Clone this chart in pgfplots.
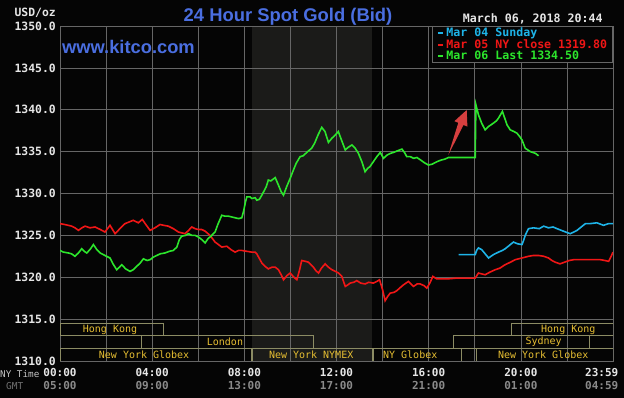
\documentclass[border=0pt]{standalone}
\usepackage{pgfplots}
\pgfplotsset{compat=1.18}
\usepackage{fontspec}
\setmainfont{DejaVu Sans Mono}
\newfontfamily\arialf{Liberation Sans}
\definecolor{pagebgc}{HTML}{050505}
\definecolor{nymexc}{HTML}{1B1B19}
\definecolor{gridc}{HTML}{666666}
\definecolor{cyanL}{HTML}{1EB4E8}
\definecolor{redL}{HTML}{F01616}
\definecolor{greenL}{HTML}{2CE62C}
\definecolor{kblue}{HTML}{4A6EE0}
\definecolor{boxc}{HTML}{8C8C64}
\definecolor{boxt}{HTML}{E6BE32}
\definecolor{tickc}{HTML}{E6E6E6}
\definecolor{gmtc}{HTML}{8A8A8A}
\definecolor{arrowc}{HTML}{E84444}

\pgfdeclarelayer{pagebg}
\pgfplotsset{
  layers/kitco/.define layer set={
    pagebg,axis background,axis grid,axis ticks,axis lines,axis tick labels,pre main,main,axis descriptions,axis foreground
  }{/pgfplots/layers/standard},
}

\pgfplotstableread{
h v
0.00 1326.4
0.20 1326.3
0.51 1326.1
0.65 1325.9
0.80 1325.6
0.95 1325.9
1.09 1326.1
1.30 1325.9
1.52 1326.0
1.75 1325.7
1.95 1325.4
2.17 1326.2
2.39 1325.2
2.60 1325.8
2.82 1326.4
3.00 1326.6
3.18 1326.8
3.40 1326.5
3.57 1326.9
3.75 1326.2
3.91 1325.6
4.12 1325.9
4.34 1326.3
4.50 1326.2
4.70 1326.1
4.92 1325.8
5.14 1325.4
5.28 1325.3
5.43 1325.2
5.58 1325.6
5.72 1326.0
5.86 1325.8
6.01 1325.7
6.15 1325.7
6.30 1325.5
6.51 1325.0
6.62 1324.6
6.73 1324.2
6.88 1323.9
7.02 1323.6
7.24 1323.7
7.42 1323.3
7.60 1323.0
7.75 1323.2
7.89 1323.2
8.10 1323.1
8.32 1323.0
8.47 1323.0
8.54 1322.8
8.68 1322.1
8.76 1321.7
8.90 1321.3
9.04 1321.0
9.20 1321.2
9.34 1321.2
9.48 1320.9
9.60 1320.3
9.70 1319.7
9.85 1320.2
9.99 1320.5
10.15 1320.0
10.28 1319.7
10.40 1320.9
10.49 1322.0
10.65 1321.9
10.78 1321.8
11.00 1321.2
11.10 1320.8
11.22 1320.5
11.35 1321.1
11.51 1321.6
11.65 1321.2
11.80 1320.9
11.95 1320.7
12.09 1320.5
12.23 1320.1
12.38 1318.9
12.50 1319.1
12.59 1319.3
12.75 1319.4
12.88 1319.6
13.05 1319.3
13.24 1319.2
13.40 1319.4
13.60 1319.3
13.75 1319.5
13.87 1319.7
14.00 1318.5
14.11 1317.2
14.22 1317.7
14.33 1318.1
14.50 1318.2
14.62 1318.4
14.78 1318.8
14.91 1319.1
15.12 1319.5
15.34 1318.9
15.50 1319.2
15.63 1319.2
15.80 1319.0
15.92 1318.7
16.05 1319.3
16.18 1320.1
16.35 1319.8
16.57 1319.8
16.80 1319.8
17.22 1319.9
17.60 1319.9
18.02 1319.9
18.16 1320.5
18.30 1320.4
18.45 1320.3
18.65 1320.6
18.89 1320.9
19.10 1321.1
19.32 1321.5
19.55 1321.8
19.76 1322.1
20.05 1322.3
20.33 1322.5
20.55 1322.6
20.77 1322.6
21.00 1322.5
21.20 1322.3
21.35 1322.0
21.49 1321.8
21.70 1321.6
21.90 1321.8
22.10 1322.0
22.30 1322.1
22.50 1322.1
22.87 1322.1
23.12 1322.1
23.45 1322.1
23.65 1322.0
23.81 1321.9
23.92 1322.5
24.00 1323.0
}\redtab

\pgfplotstableread{
h v
0.00 1323.2
0.15 1323.0
0.36 1322.9
0.50 1322.8
0.65 1322.5
0.80 1322.9
0.94 1323.4
1.05 1323.1
1.16 1322.9
1.30 1323.3
1.45 1323.9
1.60 1323.3
1.74 1322.9
1.95 1322.6
2.17 1322.3
2.30 1321.6
2.46 1320.9
2.58 1321.2
2.68 1321.5
2.85 1321.0
3.04 1320.7
3.18 1320.9
3.33 1321.3
3.48 1321.7
3.62 1322.2
3.78 1322.0
3.91 1322.1
4.05 1322.4
4.20 1322.6
4.35 1322.8
4.56 1322.9
4.75 1323.1
4.92 1323.2
5.07 1323.6
5.18 1324.5
5.28 1324.9
5.45 1325.0
5.57 1325.2
5.72 1325.0
5.86 1325.0
6.01 1324.8
6.15 1324.5
6.30 1324.1
6.42 1324.6
6.55 1324.9
6.73 1325.4
6.85 1326.3
7.02 1327.4
7.15 1327.3
7.30 1327.3
7.45 1327.2
7.60 1327.1
7.75 1327.0
7.89 1327.1
7.96 1327.8
8.05 1329.0
8.11 1329.6
8.25 1329.6
8.32 1329.4
8.47 1329.5
8.54 1329.2
8.65 1329.3
8.76 1329.8
8.95 1330.8
9.04 1331.6
9.15 1331.5
9.34 1331.9
9.48 1331.0
9.60 1330.2
9.70 1329.8
9.85 1330.9
9.99 1331.8
10.10 1332.6
10.25 1333.6
10.42 1334.4
10.55 1334.5
10.75 1335.0
10.92 1335.4
11.05 1336.0
11.20 1337.0
11.36 1337.9
11.50 1337.4
11.65 1336.1
11.80 1336.6
11.95 1337.0
12.08 1337.4
12.20 1336.5
12.38 1335.2
12.50 1335.5
12.67 1335.8
12.81 1335.4
12.95 1334.8
13.10 1333.8
13.24 1332.6
13.35 1333.0
13.45 1333.2
13.60 1333.8
13.75 1334.4
13.90 1334.9
14.04 1334.2
14.20 1334.6
14.35 1334.8
14.47 1334.9
14.65 1335.1
14.84 1335.3
14.95 1334.9
15.05 1334.4
15.20 1334.4
15.35 1334.2
15.49 1334.3
15.65 1334.0
15.80 1333.7
15.99 1333.4
16.15 1333.5
16.36 1333.8
16.55 1334.0
16.70 1334.1
16.86 1334.3
18.02 1334.3
18.05 1340.6
18.16 1339.4
18.30 1338.4
18.45 1337.6
18.60 1338.0
18.81 1338.4
18.95 1338.7
19.03 1339.0
19.20 1339.8
19.30 1339.0
19.40 1338.2
19.54 1337.6
19.70 1337.4
19.83 1337.2
19.95 1336.8
20.05 1336.4
20.19 1335.4
20.30 1335.2
20.41 1335.0
20.52 1334.9
20.63 1334.8
20.77 1334.5
}\greentab

\pgfplotstableread{
h v
17.30 1322.7
18.02 1322.7
18.08 1323.2
18.16 1323.5
18.30 1323.3
18.45 1322.8
18.60 1322.3
18.70 1322.5
18.81 1322.7
19.03 1323.0
19.20 1323.2
19.32 1323.4
19.50 1323.8
19.68 1324.2
19.85 1324.0
20.05 1323.9
20.12 1324.4
20.19 1325.0
20.33 1325.8
20.55 1325.9
20.80 1325.8
20.99 1326.1
21.20 1325.9
21.40 1326.0
21.57 1325.8
21.85 1325.5
22.14 1325.2
22.30 1325.4
22.44 1325.6
22.62 1326.0
22.80 1326.4
23.00 1326.4
23.30 1326.5
23.59 1326.2
23.80 1326.4
24.00 1326.4
}\cyantab

\begin{document}
\begin{tikzpicture}
\pgfplotsset{set layers=kitco}
\begin{pgfonlayer}{pagebg}
\fill[pagebgc] (0pt,0pt) rectangle (624pt,398pt);
\end{pgfonlayer}
\begin{axis}[
  at={(60pt,37pt)}, anchor=south west,
  scale only axis, width=553pt, height=335pt,
  xmin=0, xmax=24, ymin=1310, ymax=1350,
  set layers=kitco,
  xtick={0,4,8,12,16,20},
  minor xtick={2,6,10,14,18,22,24},
  xticklabels={{00:00\\\textcolor{gmtc}{05:00}},{04:00\\\textcolor{gmtc}{09:00}},{08:00\\\textcolor{gmtc}{13:00}},{12:00\\\textcolor{gmtc}{17:00}},{16:00\\\textcolor{gmtc}{21:00}},{20:00\\\textcolor{gmtc}{01:00}}},
  extra x ticks={23.51},
  extra x tick labels={{23:59\\\textcolor{gmtc}{04:59}}},
  extra x tick style={grid=none, major tick length=0pt},
  ytick={1310,1315,1320,1325,1330,1335,1340,1345,1350},
  yticklabels={1310.0,1315.0,1320.0,1325.0,1330.0,1335.0,1340.0,1345.0,1350.0},
  grid=both,
  major grid style={gridc, line width=0.6pt},
  minor grid style={gridc, line width=0.6pt},
  axis line style={gridc, line width=0.6pt},
  major tick length=0pt, minor tick length=0pt,
  yticklabel style={font=\bfseries\fontsize{11.4}{12}\selectfont, text=tickc, inner sep=0pt, xshift=-4pt},
  xticklabel style={align=center, font=\bfseries\fontsize{11}{13.6}\selectfont, text=tickc, inner sep=0pt, yshift=-7pt},
  legend style={at={(1,1)}, anchor=north east, fill=pagebgc, draw=gridc, line width=0.6pt,
    font=\bfseries\fontsize{11.6}{12}\selectfont, inner xsep=5pt, inner ysep=1pt,
    nodes={inner sep=0.6pt}, row sep=0pt, column sep=2pt},
  legend cell align=left,
  legend image code/.code={\draw[#1, line width=2pt, solid] (0pt,0pt) -- (5pt,0pt);},
]
\begin{pgfonlayer}{axis background}
\fill[nymexc] (axis cs:8.33,1310) rectangle (axis cs:13.55,1350);
\end{pgfonlayer}

\addplot[cyanL, line width=1.6pt] table[x=h, y=v] {\cyantab};
\addlegendentry{\textcolor{cyanL}{Mar 04 Sunday}}
\addplot[redL, line width=1.6pt] table[x=h, y=v] {\redtab};
\addlegendentry{\textcolor{redL}{Mar 05 NY close 1319.80}}
\addplot[greenL, line width=1.6pt] table[x=h, y=v] {\greentab};
\addlegendentry{\textcolor{greenL}{Mar 06 Last 1334.50}}

% session boxes
\begin{scope}[boxc, line width=0.8pt]
\draw (axis cs:0,1313.0) rectangle (axis cs:4.47,1314.45);
\draw (axis cs:19.58,1313.0) rectangle (axis cs:24,1314.45);
\draw (axis cs:3.52,1311.5) rectangle (axis cs:11.0,1313.0);
\draw (axis cs:17.06,1311.5) rectangle (axis cs:22.97,1313.0);
\draw (axis cs:0,1310) rectangle (axis cs:8.31,1311.5);
\draw (axis cs:8.35,1310) rectangle (axis cs:13.55,1311.5);
\draw (axis cs:13.6,1310) rectangle (axis cs:17.4,1311.5);
\draw (axis cs:18.06,1310) rectangle (axis cs:24,1311.5);
\end{scope}
\begin{scope}[every node/.style={text=boxt, font=\fontsize{10}{11}\selectfont, inner sep=0pt}]
\node at (axis cs:2.17,1313.72) {Hong Kong};
\node at (axis cs:22.06,1313.72) {Hong Kong};
\node at (axis cs:7.16,1312.25) {London};
\node at (axis cs:20.99,1312.25) {Sydney};
\node at (axis cs:3.65,1310.75) {New York Globex};
\node at (axis cs:10.9,1310.75) {New York NYMEX};
\node at (axis cs:15.2,1310.75) {NY Globex};
\node at (axis cs:20.97,1310.75) {New York Globex};
\end{scope}
\end{axis}

% annotation arrow
\fill[arrowc, opacity=0.92] (448.3pt,243pt) -- (463.5pt,273pt) -- (467.4pt,271.4pt) -- (466.7pt,288pt) -- (454.4pt,276.8pt) -- (458.3pt,275.2pt) -- cycle;

% texts
\node[anchor=base, inner sep=0pt, text=kblue, font=\arialf\bfseries\fontsize{18.4}{20}\selectfont] at (288pt,376.3pt) {24 Hour Spot Gold (Bid)};
\node[anchor=base west, inner sep=0pt, text=kblue, font=\arialf\bfseries\fontsize{18.3}{20}\selectfont] at (62pt,344.7pt) {www.kitco.com};
\node[anchor=base east, inner sep=0pt, text=tickc, font=\bfseries\fontsize{11.4}{12}\selectfont] at (56pt,381.3pt) {USD/oz};
\node[anchor=base west, inner sep=0pt, text=tickc, font=\bfseries\fontsize{11.6}{12}\selectfont] at (462.7pt,375.3pt) {March 06, 2018 20:44};
\node[anchor=base west, inner sep=0pt, text=tickc!85!black, font=\fontsize{9.3}{10}\selectfont] at (0pt,20.7pt) {NY Time};
\node[anchor=base west, inner sep=0pt, text=gmtc!120, font=\fontsize{9.5}{10}\selectfont] at (6pt,8pt) {GMT};
\pgfresetboundingbox
\path[use as bounding box] (0pt,0pt) rectangle (624pt,398pt);
\end{tikzpicture}
\end{document}
